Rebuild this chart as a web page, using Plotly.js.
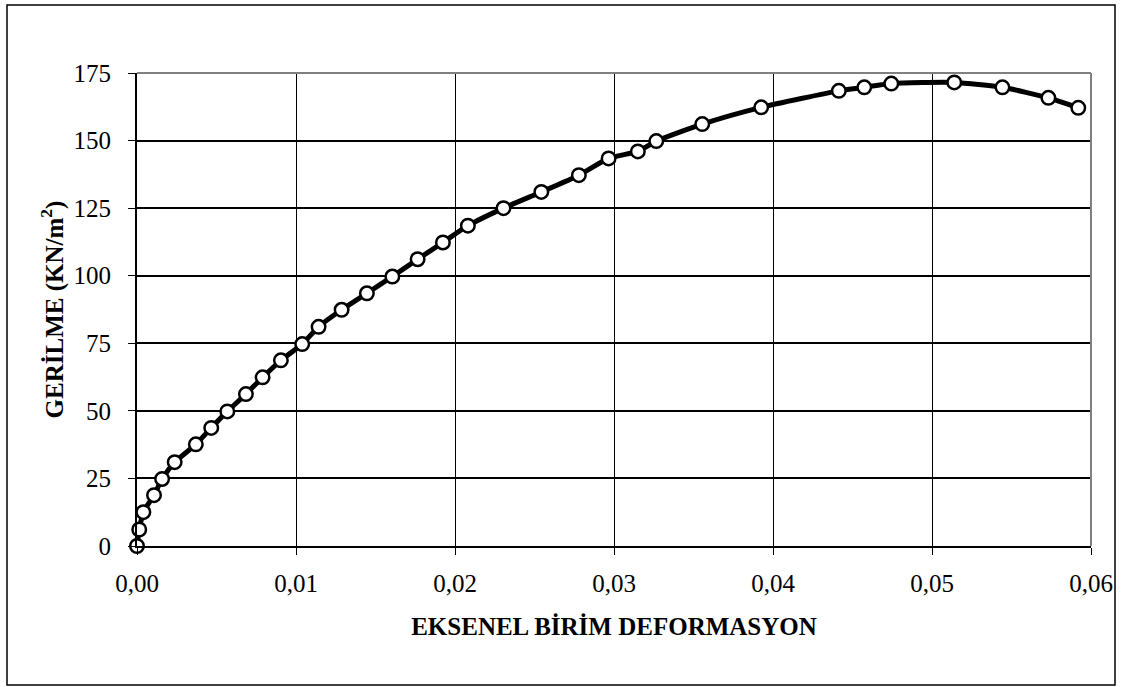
<!DOCTYPE html>
<html>
<head>
<meta charset="utf-8">
<script src="https://cdn.plot.ly/plotly-3.0.1.min.js"></script>
<style>html,body{margin:0;padding:0;background:#fff;}#chart{width:1123px;height:687px;}</style>
</head>
<body>
<div id="chart"></div>
<script>
// Axial strain (EKSENEL BİRİM DEFORMASYON)
const strain = [0, 0.00014, 0.0004, 0.00107, 0.00158, 0.00237, 0.0037, 0.00467, 0.00568, 0.00685,
  0.0079, 0.00905, 0.01039, 0.01142, 0.01287, 0.01446, 0.01606, 0.01765, 0.01924, 0.02081,
  0.02305, 0.02543, 0.02779, 0.02966, 0.0315, 0.03266, 0.03555, 0.03926, 0.04414, 0.04574,
  0.04744, 0.0514, 0.05443, 0.05732, 0.0592];
// Stress (GERİLME, KN/m²)
const stress = [0, 6.1, 12.5, 18.8, 24.8, 31.0, 37.6, 43.7, 49.8, 56.2,
  62.4, 68.7, 74.7, 81.1, 87.4, 93.5, 99.7, 106.1, 112.3, 118.5,
  125.0, 131.0, 137.2, 143.4, 146.0, 149.8, 156.1, 162.3, 168.4, 169.7,
  171.1, 171.5, 169.7, 165.8, 162.1];

const xTitle = 'EKSENEL BİRİM DEFORMASYON';
const yTitle = 'GERİLME (KN/m<sup>2</sup>)';

const FONT = 'Liberation Serif, Times New Roman, serif';

const trace = {
  x: strain, y: stress, type: 'scatter', mode: 'lines+markers',
  line: {color: '#000', width: 5, shape: 'spline', smoothing: 0.6},
  marker: {symbol: 'circle', size: 13.5, color: '#fff', line: {color: '#000', width: 2.5}},
  cliponaxis: false, hoverinfo: 'x+y'
};

// plot area in pixels: x 137..1091, y 73..546
const L = 137, R = 1091, T = 73, B = 546, W = 1123, H = 687;
const pw = R - L, ph = B - T;
const px = v => (v - L) / pw;
const py = v => (B - v) / ph;

const layout = {
  width: W, height: H,
  margin: {l: L, r: W - R, t: T, b: H - B},
  paper_bgcolor: '#fff', plot_bgcolor: '#fff',
  separators: ', ',
  showlegend: false,
  font: {family: FONT, color: '#000', size: 25},
  xaxis: {
    range: [0, 0.06], dtick: 0.01, tick0: 0, tickformat: '.2f',
    showgrid: true, gridcolor: '#000', gridwidth: 1,
    showline: true, linecolor: '#000', linewidth: 2,
    ticks: 'outside', ticklen: 7, tickwidth: 1, tickcolor: '#000',
    ticklabelstandoff: 7,
    zeroline: false, fixedrange: true, automargin: false,
    tickfont: {family: FONT, size: 25, color: '#000'},
    title: {text: xTitle, font: {family: FONT, size: 25, color: '#000', weight: 'bold'}, standoff: 21}
  },
  yaxis: {
    range: [0, 175], dtick: 25, tick0: 0,
    showgrid: true, gridcolor: '#000', gridwidth: 2,
    showline: true, linecolor: '#000', linewidth: 2,
    ticks: 'outside', ticklen: 7, tickwidth: 1, tickcolor: '#000',
    ticklabelstandoff: 12,
    zeroline: false, fixedrange: true, automargin: false,
    tickfont: {family: FONT, size: 25, color: '#000'},
    title: {text: yTitle, font: {family: FONT, size: 25, color: '#000', weight: 'bold'}, standoff: 3}
  },
  shapes: [
    // plot area border (top and right, grey)
    {type: 'line', xref: 'paper', yref: 'paper', x0: 0, x1: 1, y0: 1, y1: 1, line: {color: '#808080', width: 2}, layer: 'above'},
    {type: 'line', xref: 'paper', yref: 'paper', x0: 1, x1: 1, y0: 0, y1: 1, line: {color: '#808080', width: 2}, layer: 'above'},
    // outer chart frame
    {type: 'rect', xref: 'paper', yref: 'paper', x0: px(7), x1: px(1115), y0: py(685), y1: py(5), line: {color: '#000', width: 1.5}, layer: 'above'}
  ]
};

Plotly.newPlot('chart', [trace], layout, {staticPlot: true, displayModeBar: false});
</script>
</body>
</html>
